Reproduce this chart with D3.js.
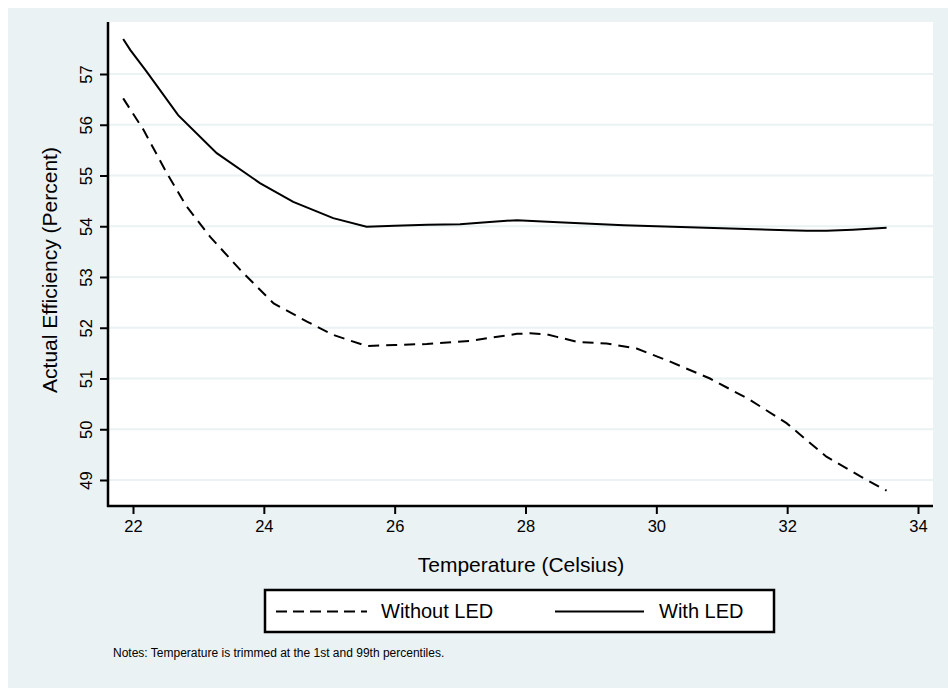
<!DOCTYPE html>
<html>
<head>
<meta charset="utf-8">
<script src="https://cdn.jsdelivr.net/npm/d3@7"></script>
<style>
  html, body { margin: 0; padding: 0; background: #ffffff; }
  svg { display: block; }
  text { font-family: "Liberation Sans", Arial, Helvetica, sans-serif; fill: #000; }
</style>
</head>
<body>
<svg id="chart" width="948" height="688"></svg>
<script>
// ---- Data ----
const withTemp = [21.85, 21.96, 22.2, 22.69, 23.28, 23.94, 24.45, 25.06, 25.57, 26.0, 26.5, 27.0, 27.4, 27.87, 28.5, 29.0, 29.5, 30.0, 30.5, 31.0, 31.5, 32.0, 32.3, 32.6, 33.0, 33.52];
const withEff  = [57.69, 57.47, 57.06, 56.19, 55.44, 54.85, 54.48, 54.16, 53.99, 54.01, 54.03, 54.04, 54.08, 54.12, 54.08, 54.05, 54.02, 54.0, 53.98, 53.96, 53.94, 53.92, 53.91, 53.91, 53.93, 53.97];

const withoutTemp = [21.85, 22.16, 22.52, 22.82, 23.18, 23.64, 24.15, 24.66, 25.06, 25.57, 26.0, 26.49, 27.15, 27.5, 27.87, 28.07, 28.32, 28.48, 28.8, 29.24, 29.7, 30.16, 30.82, 31.43, 31.99, 32.6, 33.12, 33.52];
const withoutEff  = [56.52, 55.90, 55.04, 54.39, 53.79, 53.14, 52.48, 52.12, 51.86, 51.64, 51.66, 51.68, 51.74, 51.81, 51.88, 51.89, 51.87, 51.82, 51.72, 51.69, 51.59, 51.36, 51.0, 50.58, 50.12, 49.46, 49.07, 48.79];

const xTicks = [22, 24, 26, 28, 30, 32, 34];
const yTicks = [49, 50, 51, 52, 53, 54, 55, 56, 57];
const seriesNames = ["Without LED", "With LED"];
const xTitle = "Temperature (Celsius)";
const yTitle = "Actual Efficiency (Percent)";
const noteText = "Notes: Temperature is trimmed at the 1st and 99th percentiles.";

// ---- Layout ----
const bg = "#eaf2f3";
const plot = { left: 108, right: 933, top: 22, bottom: 506 };

const svg = d3.select("#chart");

svg.append("rect").attr("x", 8).attr("y", 8).attr("width", 940).attr("height", 680).attr("fill", bg);
svg.append("rect").attr("x", plot.left).attr("y", plot.top)
  .attr("width", plot.right - plot.left).attr("height", plot.bottom - plot.top).attr("fill", "#ffffff");

const x = d3.scaleLinear().domain([22, 34]).range([133, 918]);
const y = d3.scaleLinear().domain([49, 57]).range([480, 74]);

// gridlines
svg.append("g").selectAll("line").data(yTicks).join("line")
  .attr("x1", plot.left).attr("x2", plot.right)
  .attr("y1", d => y(d)).attr("y2", d => y(d))
  .attr("stroke", bg).attr("stroke-width", 2);

// lines
const toPts = (xs, ys) => xs.map((t, i) => [t, ys[i]]);
const line = d3.line().x(d => x(d[0])).y(d => y(d[1])).curve(d3.curveLinear);

svg.append("path").datum(toPts(withoutTemp, withoutEff))
  .attr("d", line).attr("fill", "none").attr("stroke", "#000")
  .attr("stroke-width", 2).attr("stroke-dasharray", "11,7");

svg.append("path").datum(toPts(withTemp, withEff))
  .attr("d", line).attr("fill", "none").attr("stroke", "#000")
  .attr("stroke-width", 2);

// axes
const xAxis = d3.axisBottom(x).tickValues(xTicks).tickSize(8).tickPadding(6).tickFormat(d3.format("d"));
const gx = svg.append("g").attr("transform", `translate(0,${plot.bottom})`).call(xAxis);
gx.select(".domain").remove();
gx.selectAll(".tick line").attr("stroke", "#000").attr("stroke-width", 2);
gx.selectAll(".tick text").style("font-size", "16.5px").attr("font-family", null);
svg.append("line").attr("x1", plot.left - 1).attr("x2", plot.right)
  .attr("y1", plot.bottom).attr("y2", plot.bottom).attr("stroke", "#000").attr("stroke-width", 2.5);

const yAxis = d3.axisLeft(y).tickValues(yTicks).tickSize(8).tickFormat(d3.format("d"));
const gy = svg.append("g").attr("transform", `translate(${plot.left},0)`).call(yAxis);
gy.select(".domain").remove();
gy.selectAll(".tick line").attr("stroke", "#000").attr("stroke-width", 2);
gy.selectAll(".tick text")
  .attr("x", null).attr("dy", null)
  .attr("transform", "translate(-16,0) rotate(-90)")
  .attr("text-anchor", "middle").attr("dy", "0em")
  .style("font-size", "16.5px").attr("font-family", null);
svg.append("line").attr("x1", plot.left).attr("x2", plot.left)
  .attr("y1", plot.top).attr("y2", plot.bottom + 1).attr("stroke", "#000").attr("stroke-width", 2.5);

// titles
svg.append("text").attr("x", 521).attr("y", 572).attr("text-anchor", "middle")
  .style("font-size", "21px").text(xTitle);
svg.append("text").attr("transform", "translate(57,270) rotate(-90)").attr("text-anchor", "middle")
  .style("font-size", "21px").text(yTitle);

// legend
const lg = svg.append("g");
lg.append("rect").attr("x", 265).attr("y", 590).attr("width", 509).attr("height", 42)
  .attr("fill", "#fff").attr("stroke", "#000").attr("stroke-width", 2.5);
lg.append("line").attr("x1", 276).attr("x2", 367).attr("y1", 611.5).attr("y2", 611.5)
  .attr("stroke", "#000").attr("stroke-width", 2).attr("stroke-dasharray", "11,6");
lg.append("text").attr("x", 381).attr("y", 618).style("font-size", "20px").text(seriesNames[0]);
lg.append("line").attr("x1", 555).attr("x2", 644).attr("y1", 611.5).attr("y2", 611.5)
  .attr("stroke", "#000").attr("stroke-width", 2);
lg.append("text").attr("x", 659).attr("y", 618).style("font-size", "20px").text(seriesNames[1]);

// note
svg.append("text").attr("x", 113).attr("y", 657).style("font-size", "12px").text(noteText);
</script>
</body>
</html>
